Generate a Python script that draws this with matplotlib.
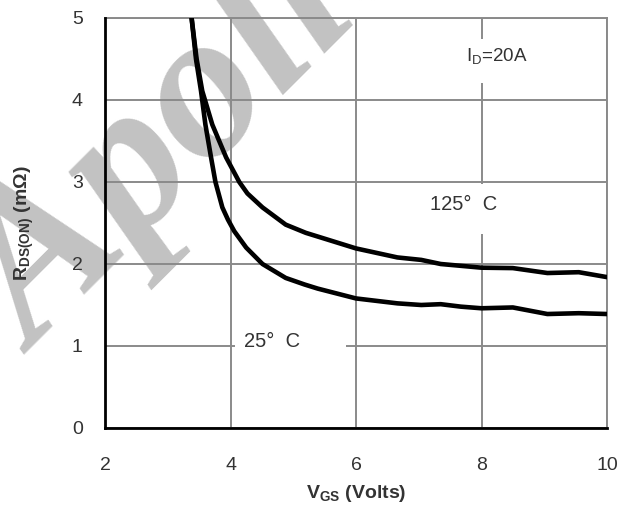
import matplotlib
matplotlib.use("Agg")
import matplotlib.pyplot as plt
from matplotlib.patches import Rectangle

# ---- data ----
vgs_25 = [3.38, 3.45, 3.53, 3.60, 3.69, 3.76, 3.87, 3.96, 4.06, 4.25, 4.51, 4.88,
          5.18, 5.39, 6.0, 6.66, 7.04, 7.35, 7.67, 8.0, 8.5, 9.05, 9.55, 10.0]
rds_25 = [5.0, 4.5, 4.11, 3.70, 3.30, 3.0, 2.69, 2.54, 2.40, 2.20, 2.00, 1.83,
          1.75, 1.70, 1.58, 1.52, 1.50, 1.51, 1.48, 1.46, 1.47, 1.39, 1.40, 1.39]

vgs_125 = [3.38, 3.46, 3.55, 3.71, 3.93, 4.14, 4.27, 4.51, 4.88, 5.2,
           6.0, 6.66, 7.04, 7.35, 8.0, 8.5, 9.05, 9.55, 10.0]
rds_125 = [5.0, 4.5, 4.11, 3.70, 3.30, 3.0, 2.86, 2.69, 2.48, 2.38,
           2.19, 2.08, 2.05, 2.0, 1.955, 1.95, 1.89, 1.90, 1.84]

x_ticks = [2, 4, 6, 8, 10]
y_ticks = [0, 1, 2, 3, 4, 5]

plt.rcParams['font.family'] = ['Liberation Sans', 'DejaVu Sans']
plt.rcParams['mathtext.default'] = 'regular'

fig = plt.figure(figsize=(6.2, 5.05), dpi=100)
ax = fig.add_axes([105/620, 1-428/505, (607-105)/620, (428-18)/505])
ax.set_facecolor('none')

# watermark
fig.text(0.056, 0.299, 'Apollo', rotation=45, rotation_mode='anchor',
         ha='left', va='baseline', fontsize=152, family='Liberation Serif',
         weight='bold', style='italic', color='#c2c2c2', zorder=-10)

grid_c = '#8a8a8a'
ax.set_xlim(2, 10)
ax.set_ylim(0, 5)
ax.set_xticks(x_ticks)
ax.set_yticks(y_ticks)
ax.grid(True, color=grid_c, linewidth=1.4)
ax.set_axisbelow(True)
for s in ['top', 'right']:
    ax.spines[s].set_color(grid_c)
    ax.spines[s].set_linewidth(1.4)
for s in ['left', 'bottom']:
    ax.spines[s].set_color('black')
    ax.spines[s].set_linewidth(2.0)
    ax.spines[s].set_zorder(5)

ax.tick_params(axis='both', length=0, labelsize=14, labelcolor='#333333')
ax.tick_params(axis='x', pad=21)
ax.tick_params(axis='y', pad=16)

ax.plot(vgs_25, rds_25, color='black', lw=3.3, solid_joinstyle='round', zorder=4)
ax.plot(vgs_125, rds_125, color='black', lw=3.3, solid_joinstyle='round', zorder=4)

ax.set_xlabel(r'V$_{GS}$ (Volts)', fontsize=14, weight='bold', color='#333333', labelpad=6)
ax.set_ylabel(r'R$_{DS(ON)}$ (m$\Omega$)', fontsize=14, weight='bold', color='#333333', labelpad=26)

# white label boxes interrupting the grid
ax.add_patch(Rectangle((7.75, 4.21), 1.0, 0.53, facecolor='white', edgecolor='none', zorder=2))
ax.add_patch(Rectangle((6.95, 2.36), 1.6, 0.61, facecolor='white', edgecolor='none', zorder=2))
ax.add_patch(Rectangle((4.07, 0.85), 1.77, 0.35, facecolor='white', edgecolor='none', zorder=2))

ax.text(8.25, 4.54, r'I$_D$=20A', fontsize=13.5, color='#333333', ha='center', va='center', zorder=3)
ax.text(7.72, 2.72, '125°  C', fontsize=14.5, color='#333333', ha='center', va='center', zorder=3)
ax.text(4.67, 1.05, '25°  C', fontsize=14.5, color='#333333', ha='center', va='center', zorder=3)

fig.savefig('out.png', dpi=100)
